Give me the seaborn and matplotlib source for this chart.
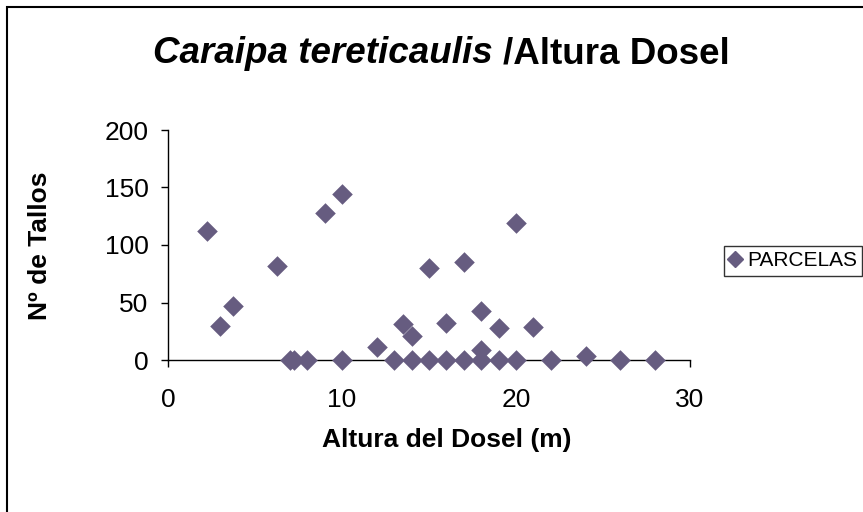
import matplotlib
matplotlib.use("Agg")
import matplotlib.pyplot as plt
import seaborn as sns
import pandas as pd
from matplotlib.patches import Rectangle
from matplotlib.lines import Line2D

altura = [2.25, 3.0, 3.75, 6.25, 7.0, 7.25, 8.0, 9.0, 10.0, 10.0, 12.0, 13.0, 13.5, 14.0, 14.0,
          15.0, 15.0, 16.0, 16.0, 17.0, 17.0, 18.0, 18.0, 18.0, 19.0, 19.0, 20.0, 20.0, 21.0,
          22.0, 24.0, 26.0, 28.0]
tallos = [112, 30, 47, 82, 0, 0, 0, 128, 144, 0, 11, 0, 31, 21, 0,
          80, 0, 32, 0, 85, 0, 0, 9, 43, 0, 28, 0, 119, 29,
          0, 3.5, 0, 0]
x_ticks = [0, 10, 20, 30]
y_ticks = [0, 50, 100, 150, 200]
series_name = "PARCELAS"

df = pd.DataFrame({"x": altura, "y": tallos})

sns.set_theme(style="white")
plt.rcParams["font.family"] = ["Liberation Sans", "DejaVu Sans"]
plt.rcParams["text.color"] = "black"
plt.rcParams["axes.labelcolor"] = "black"
plt.rcParams["xtick.color"] = "black"
plt.rcParams["ytick.color"] = "black"

W, H = 863, 512
fig = plt.figure(figsize=(W / 100, H / 100), dpi=100)
fig.patch.set_facecolor("white")

ax = fig.add_axes([168 / W, 1 - 360 / H, (690 - 168) / W, (360 - 130) / H])
color = "#665C80"
sns.scatterplot(data=df, x="x", y="y", ax=ax, marker="D", s=110, color=color,
                edgecolor=color, linewidth=0, legend=False, clip_on=False, zorder=3)

ax.set_xlim(0, 30)
ax.set_ylim(0, 200)
ax.set_xticks(x_ticks)
ax.set_yticks(y_ticks)
ax.set_xticklabels([str(t) for t in x_ticks], fontsize=19)
ax.set_yticklabels([str(t) for t in y_ticks], fontsize=19)
for s in ["top", "right"]:
    ax.spines[s].set_visible(False)
for s in ["left", "bottom"]:
    ax.spines[s].set_color("black")
    ax.spines[s].set_linewidth(1.0)
ax.tick_params(axis="both", which="both", direction="out", length=5, width=1,
               color="black", labelcolor="black", left=True, bottom=True)
ax.tick_params(axis="x", pad=15)
ax.tick_params(axis="y", pad=9)
ax.set_facecolor("white")
ax.grid(False)

ax.set_xlabel("Altura del Dosel (m)", fontsize=19, fontweight="bold", labelpad=12)
ax.xaxis.set_label_coords((446.5 - 168) / (690 - 168), -(440 - 360) / (360 - 130) + 0.0)
ax.xaxis.label.set_va("center")
ax.set_ylabel("Nº de Tallos", fontsize=19, fontweight="bold")
ax.yaxis.set_label_coords(-(168 - 40) / (690 - 168), (360 - 246) / (360 - 130))
ax.yaxis.label.set_va("center")

# legend
handle = Line2D([], [], marker="D", linestyle="none", markersize=8,
                markerfacecolor=color, markeredgecolor=color)
leg = fig.legend([handle], [series_name], loc="center left",
                 bbox_to_anchor=(724 / W, 1 - 261 / H), fontsize=15,
                 frameon=True, fancybox=False, handlelength=0.6, handletextpad=0.25,
                 borderpad=0.25, borderaxespad=0)
leg.get_frame().set_edgecolor("black")
leg.get_frame().set_linewidth(1.0)

# outer frame (clipped at right/bottom)
fig.patches.append(Rectangle((6.5 / W, -0.1), 1.2, (1 - 7 / H) + 0.1,
                             transform=fig.transFigure, fill=False,
                             edgecolor="black", linewidth=1.5))

# title: italic part + normal bold part
fig.canvas.draw()
r = fig.canvas.get_renderer()
t1 = fig.text(0, 1 - 63 / H, "Caraipa tereticaulis ", fontsize=26.5, fontweight="bold",
              fontstyle="italic", va="baseline", ha="left")
t2 = fig.text(0, 1 - 63 / H, "/Altura Dosel", fontsize=26.5, fontweight="bold",
              va="baseline", ha="left")
w1 = t1.get_window_extent(r).width
w2 = t2.get_window_extent(r).width
x0 = 441.5 - (w1 + w2) / 2
t1.set_x(x0 / W)
t2.set_x((x0 + w1) / W)

fig.savefig("out.png", dpi=100, facecolor="white")
